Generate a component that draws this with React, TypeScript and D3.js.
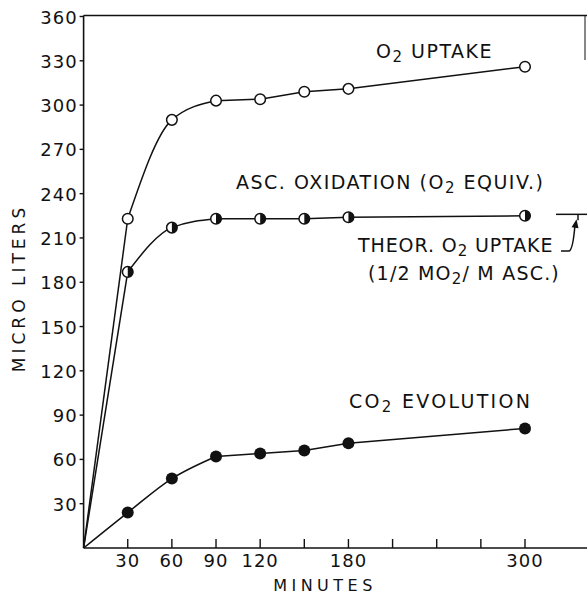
import * as d3 from "d3";

// minutes at which samples were taken
const minutes = [0, 30, 60, 90, 120, 150, 180, 300];
const o2Uptake = [0, 223, 290, 303, 304, 309, 311, 326];
const ascOxidation = [0, 187, 217, 223, 223, 223, 224, 225];
const co2Evolution = [0, 24, 47, 62, 64, 66, 71, 81];
const theorUptake = 226;

const yTicks = [30, 60, 90, 120, 150, 180, 210, 240, 270, 300, 330, 360];
const xTicks = [30, 60, 90, 120, 150, 180, 210, 240, 270, 300];
const xLabels = [30, 60, 90, 120, 180, 300];

const W = 587;
const H = 596;
const FONT = "DejaVu Sans, sans-serif";

type Pt = [number, number];

export default function App() {
  const x = d3.scaleLinear().domain([0, 300]).range([83.6, 525]);
  const y = d3.scaleLinear().domain([0, 360]).range([548, 16.5]);

  const pts = (vals: number[]): Pt[] => minutes.map((m, i) => [m, vals[i]]);
  const o2 = pts(o2Uptake);
  const asc = pts(ascOxidation);
  const co2 = pts(co2Evolution);

  const straight = d3
    .line<Pt>()
    .x((d) => x(d[0]))
    .y((d) => y(d[1]));
  const smooth = d3
    .line<Pt>()
    .x((d) => x(d[0]))
    .y((d) => y(d[1]))
    .curve(d3.curveMonotoneX);

  // hand-drawn look: straight start, smooth bend through the knee, straight tail
  const pieces = (p: Pt[], from: number, knee: number) => [
    from > 0 ? straight(p.slice(0, from + 1)) : "",
    smooth(p.slice(from, knee + 1)),
    straight(p.slice(knee)),
  ];

  const x0 = x(0);
  const yBase = y(0);
  const yTh = y(theorUptake);

  const sub = (t: string) => (
    <tspan dy={4} fontSize={15}>
      {t}
    </tspan>
  );
  const rest = (t: string) => (
    <tspan dy={-4} fontSize={19}>
      {t}
    </tspan>
  );

  return (
    <svg
      width={W}
      height={H}
      style={{ position: "absolute", left: 0, top: 0, background: "#fff" }}
      fontFamily={FONT}
    >
      {/* frame */}
      <g stroke="#111" strokeWidth={1.6} fill="none">
        <line x1={x0} x2={W} y1={y(360) - 1} y2={y(360) - 1} />
        <line x1={x0} x2={x0} y1={y(360) - 1} y2={yBase} />
        <line x1={x0} x2={W} y1={yBase} y2={yBase} />
        <line x1={585} x2={585} y1={y(360) - 1} y2={60} strokeWidth={1} />
      </g>

      {/* y ticks */}
      {yTicks.map((t) => (
        <g key={"y" + t}>
          <line x1={x0 - 4} x2={x0} y1={y(t)} y2={y(t)} stroke="#111" strokeWidth={1.4} />
          <text
            x={x0 - 6}
            y={y(t) + 7}
            textAnchor="end"
            fontSize={18}
            letterSpacing={1}
            fill="#111"
          >
            {t}
          </text>
        </g>
      ))}

      {/* x ticks */}
      {xTicks.map((t) => (
        <line
          key={"x" + t}
          x1={x(t)}
          x2={x(t)}
          y1={yBase}
          y2={yBase - 9}
          stroke="#111"
          strokeWidth={1.4}
        />
      ))}
      {xLabels.map((t) => (
        <text
          key={"xl" + t}
          x={x(t)}
          y={567}
          textAnchor="middle"
          fontSize={18}
          letterSpacing={1}
          fill="#111"
        >
          {t}
        </text>
      ))}

      <text x={325} y={591} textAnchor="middle" fontSize={16} letterSpacing={4.5} fill="#111">
        MINUTES
      </text>
      <text
        transform="translate(25,288) rotate(-90)"
        textAnchor="middle"
        fontSize={17}
        letterSpacing={4}
        fill="#111"
      >
        MICRO LITERS
      </text>

      {/* curves */}
      <g stroke="#111" strokeWidth={1.5} fill="none">
        {[...pieces(o2, 1, 3), ...pieces(asc, 1, 3), ...pieces(co2, 0, 3)].map((d, i) => (
          <path key={"p" + i} d={d || ""} />
        ))}
      </g>

      {/* markers */}
      {o2.slice(1).map((d, i) => (
        <circle
          key={"o" + i}
          cx={x(d[0])}
          cy={y(d[1])}
          r={5.3}
          fill="#fff"
          stroke="#111"
          strokeWidth={1.5}
        />
      ))}
      {asc.slice(1).map((d, i) => {
        const cx = x(d[0]);
        const cy = y(d[1]);
        const r = 5.3;
        return (
          <g key={"a" + i}>
            <circle cx={cx} cy={cy} r={r} fill="#fff" stroke="#111" strokeWidth={1.5} />
            <path
              d={`M${cx},${cy - r} A${r},${r} 0 0 1 ${cx},${cy + r} Z`}
              fill="#111"
            />
          </g>
        );
      })}
      {co2.slice(1).map((d, i) => (
        <circle key={"c" + i} cx={x(d[0])} cy={y(d[1])} r={6} fill="#111" />
      ))}

      {/* theoretical uptake marker */}
      <g stroke="#111" strokeWidth={1.5} fill="none">
        <line x1={556} x2={W} y1={yTh} y2={yTh} />
        <line x1={578} x2={578} y1={yTh} y2={yTh + 6} />
        <path d={`M561,251 L569,251 Q573,250 575,${yTh + 10}`} />
      </g>
      <path
        d={`M576.5,${yTh + 5} L571.5,${yTh + 13} L578.5,${yTh + 14} Z`}
        fill="#111"
      />

      {/* labels */}
      <g fontSize={19} letterSpacing={1.5} fill="#111">
        <text x={376} y={58}>
          O{sub("2")}
          {rest(" UPTAKE")}
        </text>
        <text x={236} y={189}>
          ASC. OXIDATION (O{sub("2")}
          {rest(" EQUIV.)")}
        </text>
        <text x={358} y={252} letterSpacing={0.9}>
          THEOR. O{sub("2")}
          {rest(" UPTAKE")}
        </text>
        <text x={368} y={280} letterSpacing={1.2}>
          (1/2 MO{sub("2")}
          {rest("/ M ASC.)")}
        </text>
        <text x={349} y={408} letterSpacing={2.3}>
          CO{sub("2")}
          {rest(" EVOLUTION")}
        </text>
      </g>
    </svg>
  );
}
